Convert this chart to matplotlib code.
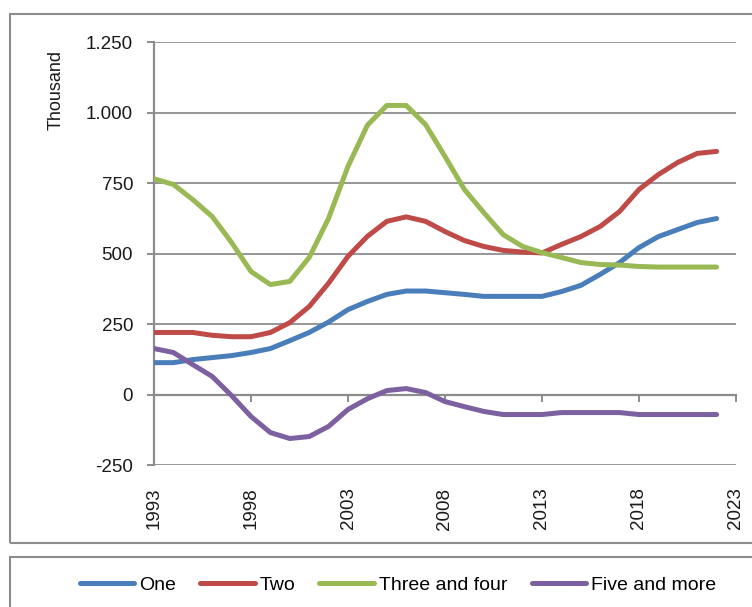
import matplotlib.pyplot as plt
from matplotlib.patches import Rectangle
from matplotlib.ticker import FuncFormatter

plt.rcParams['font.family'] = ['Liberation Sans', 'DejaVu Sans']

years = list(range(1993, 2023))
one = [113, 113, 124, 131, 138, 149, 163, 191, 220, 257, 301, 330, 355, 367, 367,
       361, 355, 348, 348, 348, 348, 365, 387, 426, 468, 521, 560, 585, 610, 624]
two = [220, 220, 220, 210, 205, 205, 220, 255, 312, 395, 490, 561, 614, 630, 614,
       578, 546, 525, 511, 505, 502, 532, 560, 596, 649, 727, 780, 823, 855, 862]
three_four = [765, 745, 691, 631, 539, 436, 390, 401, 486, 625, 809, 955, 1025, 1025, 957,
              844, 727, 645, 567, 525, 503, 486, 468, 461, 459, 454, 452, 452, 452, 452]
five_more = [163, 149, 106, 64, -4, -78, -135, -156, -149, -113, -53, -15, 14, 21, 7,
             -25, -43, -60, -71, -71, -71, -64, -64, -64, -64, -71, -71, -71, -71, -71]

series = [('One', one, '#4A7EBB'),
          ('Two', two, '#BE4B48'),
          ('Three and four', three_four, '#98B954'),
          ('Five and more', five_more, '#7D60A0')]

fig = plt.figure(figsize=(7.52, 6.07), dpi=100)
ax = fig.add_axes([0.2048, 0.2339, 0.7739, 0.6969])

for name, vals, col in series:
    ax.plot(years, vals, color=col, lw=3.6, solid_capstyle='round',
            solid_joinstyle='round', label=name, zorder=3)

ax.set_xlim(1993, 2023)
ax.set_ylim(-250, 1250)
ax.set_yticks(range(-250, 1251, 250))
ax.set_xticks(range(1993, 2024, 5))
ax.yaxis.set_major_formatter(FuncFormatter(lambda v, p: f'{int(v):,}'.replace(',', '.')))
ax.grid(axis='y', color='#969696', lw=1.4, zorder=0)

for s in ['top', 'right']:
    ax.spines[s].set_visible(False)
ax.spines['left'].set_color('#8c8c8c')
ax.spines['left'].set_linewidth(1.6)
ax.spines['bottom'].set_position(('data', 0))
ax.spines['bottom'].set_color('#8c8c8c')
ax.spines['bottom'].set_linewidth(1.6)
ax.tick_params(axis='y', length=5, width=1.4, color='#8c8c8c', labelsize=13.5,
               labelcolor='#1a1a1a', pad=10)
ax.tick_params(axis='x', length=5, width=1.4, color='#8c8c8c', labelsize=13.5,
               labelcolor='#1a1a1a', pad=62, labelrotation=90)

ax.set_ylabel('Thousand', fontsize=13, color='#1a1a1a')
ax.yaxis.set_label_coords(-0.153, 0.887)

# outer chart frame and legend frame
fig.patches.append(Rectangle((0.0133, 0.1054), 1.0, 0.872, transform=fig.transFigure,
                             fill=False, ec='#8c8c8c', lw=1.5))
fig.patches.append(Rectangle((0.0133, -0.05), 1.0, 0.132, transform=fig.transFigure,
                             fill=False, ec='#8c8c8c', lw=1.5))

fig.legend(loc='center', bbox_to_anchor=(0.529, 0.036), ncol=4, frameon=False,
           fontsize=14, handlelength=2.8, handletextpad=0.25, columnspacing=1.25)

fig.savefig('out.png', dpi=100)
